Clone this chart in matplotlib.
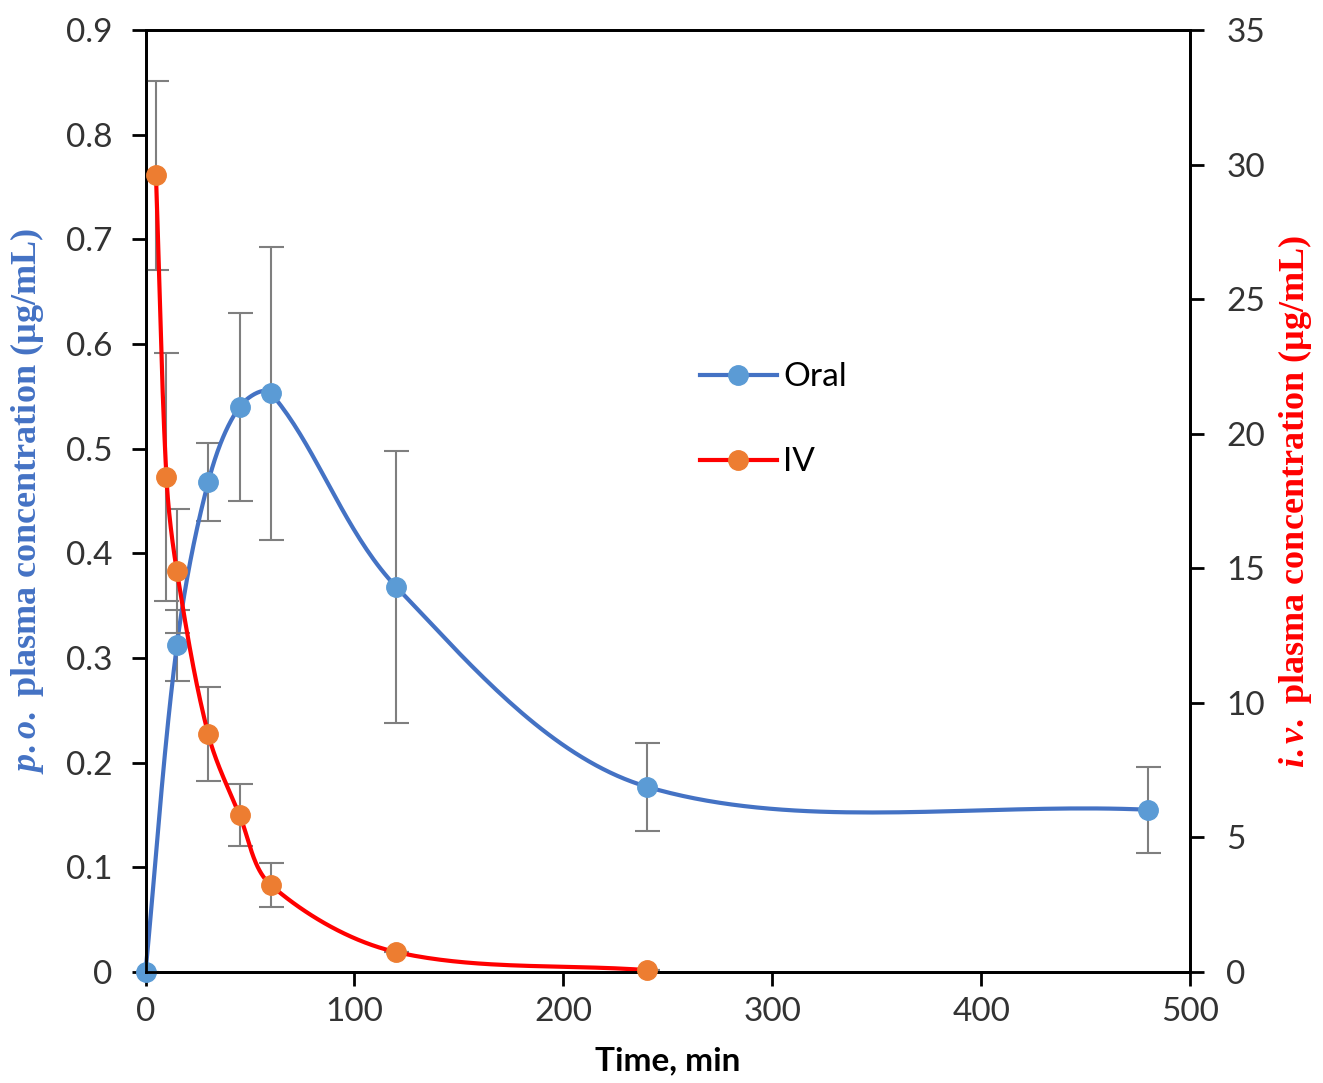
import numpy as np
import matplotlib.pyplot as plt

# data
oral_t = [0, 15, 30, 45, 60, 120, 240, 480]
oral_c = [0.0, 0.312, 0.468, 0.540, 0.553, 0.368, 0.177, 0.155]
oral_err = [0.0, 0.034, 0.037, 0.090, 0.140, 0.130, 0.042, 0.041]

iv_t = [5, 10, 15, 30, 45, 60, 120, 240]
iv_c = [29.6, 18.4, 14.9, 8.84, 5.83, 3.23, 0.74, 0.07]
iv_err = [3.5, 4.6, 2.3, 1.75, 1.15, 0.83, 0.0, 0.0]

BLUE_LINE = "#4472C4"
BLUE_DOT = "#5B9BD5"
RED_LINE = "#FF0000"
ORANGE_DOT = "#ED7D31"
GREY = "#7F7F7F"

plt.rcParams["font.family"] = "Lato"
plt.rcParams["mathtext.fontset"] = "custom"
plt.rcParams["mathtext.it"] = "Liberation Serif:italic:bold"
plt.rcParams["mathtext.rm"] = "Liberation Serif:bold"


# Excel-like smoothed line: bezier segments, tangents scaled by segment length
# (worked out in screen units so it does not overshoot on uneven spacing)
def smooth(x, y, xs, ys, n=40):
    pts = np.column_stack([np.array(x) * xs, np.array(y) * ys]).astype(float)
    out = []
    m = len(pts)
    for i in range(m - 1):
        p0 = pts[i - 1] if i > 0 else pts[i]
        p1 = pts[i]
        p2 = pts[i + 1]
        p3 = pts[i + 2] if i + 2 < m else pts[i + 1]
        d01 = np.hypot(*(p1 - p0))
        d12 = np.hypot(*(p2 - p1))
        d23 = np.hypot(*(p3 - p2))
        f1 = d12 / (d01 + d12) if d01 + d12 > 0 else 0
        f2 = d12 / (d12 + d23) if d12 + d23 > 0 else 0
        c1 = p1 + (p2 - p0) * f1 / 3.0
        c2 = p2 - (p3 - p1) * f2 / 3.0
        s = np.linspace(0, 1, n)[:, None]
        seg = ((1 - s) ** 3) * p1 + 3 * ((1 - s) ** 2) * s * c1 + 3 * (1 - s) * s ** 2 * c2 + s ** 3 * p2
        out.append(seg if i == 0 else seg[1:])
    out = np.vstack(out)
    return out[:, 0] / xs, out[:, 1] / ys


fig = plt.figure(figsize=(13.23, 10.83), dpi=100)
ax = fig.add_axes([0.110, 0.1025, 0.7895, 0.8698])
ax2 = ax.twinx()

px_x = 1044 / 500.0

# oral on left axis
ax.errorbar(oral_t, oral_c, yerr=oral_err, fmt="none", ecolor=GREY, elinewidth=1.5,
            capsize=9, capthick=1.5, zorder=1)
sx, sy = smooth(oral_t, oral_c, px_x, 942 / 0.9)
ax.plot(sx, sy, color=BLUE_LINE, lw=3, zorder=2, clip_on=False)
ax.plot(oral_t, oral_c, "o", color=BLUE_DOT, ms=14, zorder=3, clip_on=False)

# iv on right axis
ax2.errorbar(iv_t, iv_c, yerr=iv_err, fmt="none", ecolor=GREY, elinewidth=1.5,
             capsize=9, capthick=1.5, zorder=1)
sx, sy = smooth(iv_t, iv_c, px_x, 942 / 35.0)
ax2.plot(sx, sy, color=RED_LINE, lw=3, zorder=2, clip_on=False)
ax2.plot(iv_t, iv_c, "o", color=ORANGE_DOT, ms=14, zorder=3, clip_on=False)

ax.set_xlim(0, 500)
ax.set_ylim(0, 0.9)
ax2.set_ylim(0, 35)
ax.set_xticks(np.arange(0, 501, 100))
ax.set_yticks(np.arange(0, 0.91, 0.1))
ax.set_yticklabels(["0"] + ["%.1f" % v for v in np.arange(0.1, 0.91, 0.1)])
ax2.set_yticks(np.arange(0, 36, 5))

for a in (ax, ax2):
    for sp in a.spines.values():
        sp.set_linewidth(2)
    a.tick_params(direction="out", length=10, width=2, labelsize=24, colors="black",
                  labelcolor="#333333", pad=8)
ax.tick_params(axis="y", pad=14)
ax2.tick_params(axis="y", pad=16)

ax.set_xlabel("Time, min", fontsize=24, fontweight="bold", labelpad=14)
ax.set_ylabel(r"$\it{p.o.}$ plasma concentration (µg/mL)", fontsize=26, color=BLUE_LINE,
              family="Liberation Serif", fontweight="bold", labelpad=14)
ax2.set_ylabel(r"$\it{i.v.}$ plasma concentration (µg/mL)", fontsize=26, color=RED_LINE,
               family="Liberation Serif", fontweight="bold", labelpad=8)

# legend
h1 = plt.Line2D([], [], color=BLUE_LINE, lw=3, marker="o", ms=14, mfc=BLUE_DOT, mec=BLUE_DOT)
h2 = plt.Line2D([], [], color=RED_LINE, lw=3, marker="o", ms=14, mfc=ORANGE_DOT, mec=ORANGE_DOT)
ax2.legend([h1, h2], ["Oral", "IV"], loc="center left", bbox_to_anchor=(0.502, 0.586),
           frameon=False, fontsize=24, handlelength=2.3, handletextpad=0.2, labelspacing=1.65)

fig.savefig("out.png", dpi=100)
